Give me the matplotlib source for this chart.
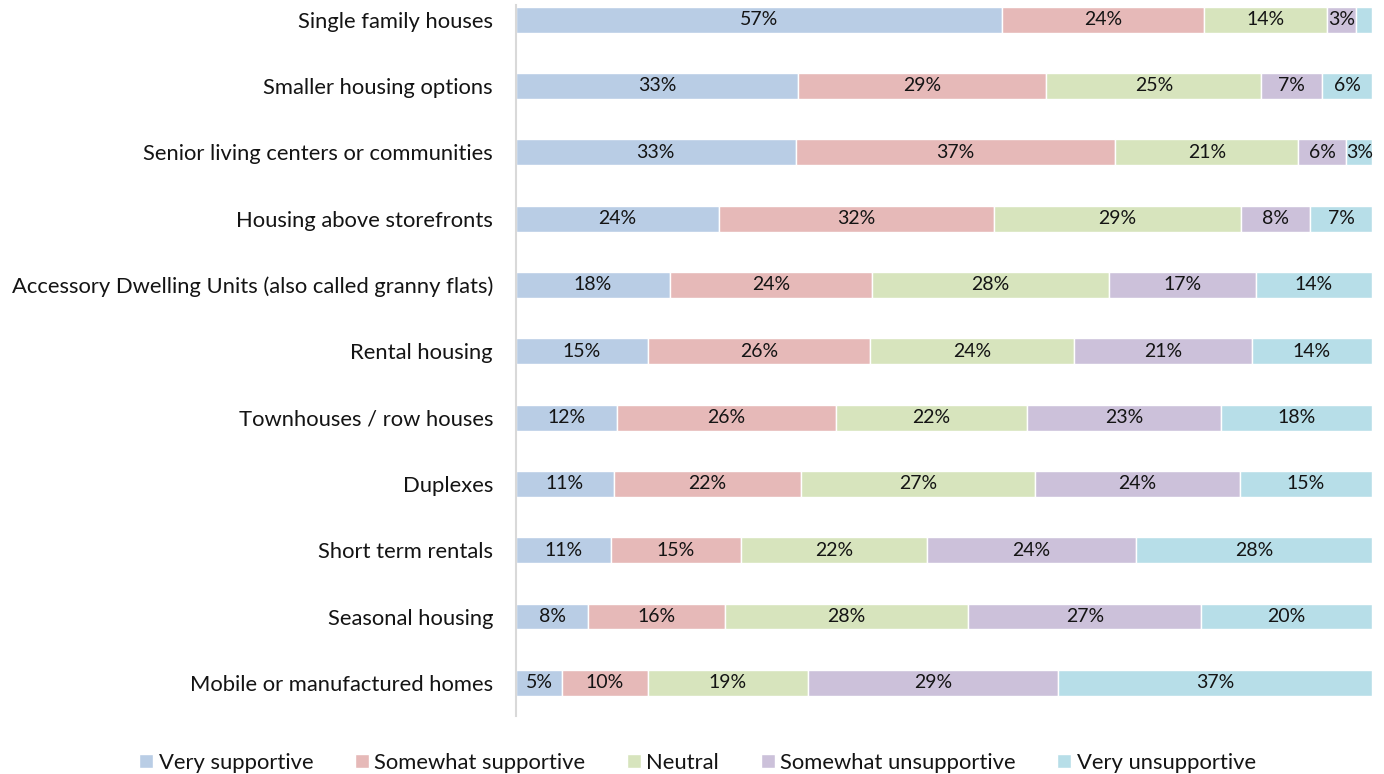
import numpy as np
import matplotlib
matplotlib.use("Agg")
import matplotlib.pyplot as plt

plt.rcParams["font.family"] = ["Lato", "DejaVu Sans"]

# categories, top to bottom
categories = [
    "Single family houses",
    "Smaller housing options",
    "Senior living centers or communities",
    "Housing above storefronts",
    "Accessory Dwelling Units (also called granny flats)",
    "Rental housing",
    "Townhouses / row houses",
    "Duplexes",
    "Short term rentals",
    "Seasonal housing",
    "Mobile or manufactured homes",
]

# percentages per response
very_supportive = [56.8, 32.9, 32.7, 23.7, 18.0, 15.4, 11.8, 11.4, 11.1, 8.4, 5.4]
somewhat_supportive = [23.7, 29.0, 37.4, 32.1, 23.6, 25.9, 25.6, 21.8, 15.2, 15.9, 10.0]
neutral = [14.4, 25.1, 21.4, 28.9, 27.8, 23.8, 22.4, 27.2, 21.8, 28.4, 18.7]
somewhat_unsupportive = [3.3, 7.1, 5.6, 8.1, 17.1, 20.7, 22.7, 23.9, 24.4, 27.1, 29.2]
very_unsupportive = [1.9, 5.8, 3.0, 7.2, 13.6, 14.0, 17.6, 15.4, 27.6, 19.9, 36.6]

series_names = ["Very supportive", "Somewhat supportive", "Neutral",
                "Somewhat unsupportive", "Very unsupportive"]
colors = ["#B9CDE5", "#E6B9B8", "#D7E4BD", "#CCC1DA", "#B7DEE8"]
text_color = "#141414"

data = np.array([very_supportive, somewhat_supportive, neutral,
                 somewhat_unsupportive, very_unsupportive])
shares = data / data.sum(axis=0) * 100  # 100% stacked

fig = plt.figure(figsize=(13.84, 7.74), dpi=100)
ax = fig.add_axes([0.3728, 0.0749, 0.9913 - 0.3728, 0.9935 - 0.0749])

y = np.arange(len(categories))
left = np.zeros(len(categories))
for name, col, vals, raw in zip(series_names, colors, shares, data):
    bars = ax.barh(y, vals, left=left, height=0.39, color=col,
                   edgecolor="white", linewidth=1, label=name)
    for b, v, r in zip(bars, vals, raw):
        if r < 2.5:  # tiny slice has no label in the original
            continue
        ax.text(b.get_x() + b.get_width() / 2, b.get_y() + b.get_height() / 2,
                f"{r:.0f}%", ha="center", va="center", fontsize=14,
                color=text_color)
    left += vals

ax.set_xlim(0, 100)
ax.set_ylim(10.5, -0.22)
ax.set_yticks(y)
ax.set_yticklabels(categories, fontsize=15.8, color=text_color)
ax.tick_params(axis="y", length=0, pad=16.5)
ax.set_xticks([])
for s in ["top", "right", "bottom"]:
    ax.spines[s].set_visible(False)
ax.spines["left"].set_color("#D9D9D9")
ax.spines["left"].set_linewidth(1.5)

fig.legend(loc="center", bbox_to_anchor=(0.504, 0.0142), ncol=5,
           frameon=False, fontsize=15.8, handlelength=0.63, handleheight=0.63,
           handletextpad=0.25, columnspacing=1.9, labelcolor=text_color,
           borderpad=0)

fig.savefig("out.png", dpi=100)
